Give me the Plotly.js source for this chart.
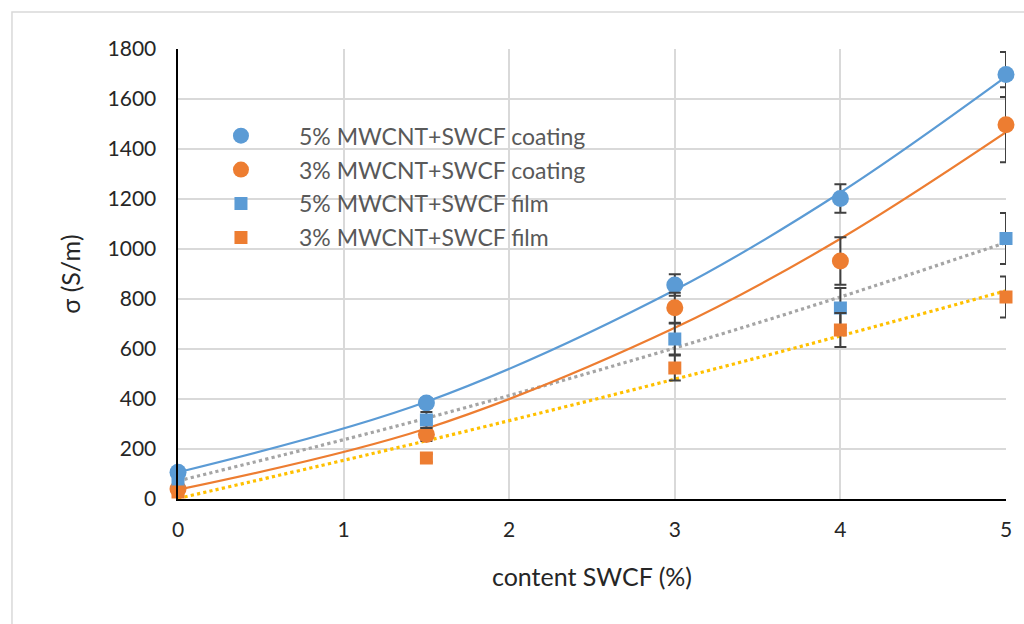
<!DOCTYPE html>
<html>
<head>
<meta charset="utf-8">
<script src="https://cdn.plot.ly/plotly-3.0.1.min.js"></script>
<style>html,body{margin:0;padding:0;background:#fff;}#chart{width:1024px;height:624px;}</style>
</head>
<body>
<div id="chart"></div>
<script>
// content SWCF (%)
const xContent = [0, 1.5, 3, 4, 5];
// conductivity sigma (S/m)
const coating5 = [107, 384, 856, 1202, 1698];
const coating3 = [40, 258, 765, 952, 1497];
const film5 = [72, 316, 640, 764, 1042];
const film3 = [28, 164, 524, 676, 808];
// error bars (S/m)
const errCoating5 = [6, 19, 43, 57, 90];
const errCoating3 = [4, 26, 60, 95, 150];
const errFilm5 = [7, 32, 62, 80, 102];
const errFilm3 = [3, 16, 50, 68, 82];
const seriesNames = ['5% MWCNT+SWCF coating', '3% MWCNT+SWCF coating', '5% MWCNT+SWCF film', '3% MWCNT+SWCF film'];

// least-squares polynomial trendline (order 2), evaluated at the data x values
function polyfit2(xs, ys) {
  let S = [0,0,0,0,0], T = [0,0,0];
  for (let i = 0; i < xs.length; i++) {
    let p = 1;
    for (let k = 0; k < 5; k++) { S[k] += p; if (k < 3) T[k] += p * ys[i]; p *= xs[i]; }
  }
  const A = [[S[0],S[1],S[2],T[0]],[S[1],S[2],S[3],T[1]],[S[2],S[3],S[4],T[2]]];
  for (let c = 0; c < 3; c++) {
    for (let r = c + 1; r < 3; r++) {
      const f = A[r][c] / A[c][c];
      for (let k = c; k < 4; k++) A[r][k] -= f * A[c][k];
    }
  }
  const co = [0,0,0];
  for (let r = 2; r >= 0; r--) {
    let s = A[r][3];
    for (let k = r + 1; k < 3; k++) s -= A[r][k] * co[k];
    co[r] = s / A[r][r];
  }
  return xs.map(x => co[0] + co[1]*x + co[2]*x*x);
}

const blue = '#5B9BD5', orange = '#ED7D31', grey = '#A5A5A5', yellow = '#FFC000';
const errStyle = (arr) => ({type: 'data', array: arr, visible: true, color: '#404040', thickness: 2, width: 6});

const trend = (ys, color, dash) => ({
  x: xContent, y: polyfit2(xContent, ys), mode: 'lines', type: 'scatter', showlegend: false,
  hoverinfo: 'skip', cliponaxis: false,
  line: {color: color, width: dash === 'solid' ? 2.2 : 3.2, dash: dash, shape: 'spline', smoothing: 1}
});

const pts = (ys, err, name, color, symbol, size, grp) => ({
  x: xContent, y: ys, mode: 'markers', type: 'scatter', name: name, legendgroup: grp,
  cliponaxis: false,
  marker: {color: color, symbol: symbol, size: size},
  error_y: errStyle(err)
});

const data = [
  trend(film5, grey, 'dot'),
  trend(film3, yellow, 'dot'),
  trend(coating5, blue, 'solid'),
  trend(coating3, orange, 'solid'),
  pts(coating5, errCoating5, seriesNames[0], blue, 'circle', 17, 'a'),
  pts(coating3, errCoating3, seriesNames[1], orange, 'circle', 17, 'b'),
  pts(film5, errFilm5, seriesNames[2], blue, 'square', 13, 'c'),
  pts(film3, errFilm3, seriesNames[3], orange, 'square', 13, 'd')
];

const fontFam = 'Lato, "Open Sans", sans-serif';
const layout = {
  width: 1024, height: 624,
  margin: {l: 178, r: 18, t: 49, b: 125},
  paper_bgcolor: '#fff', plot_bgcolor: '#fff',
  font: {family: fontFam, color: '#262626'},
  showlegend: true,
  legend: {
    x: 0.006, y: 0.855, xanchor: 'left', yanchor: 'top',
    bgcolor: 'rgba(0,0,0,0)', borderwidth: 0,
    font: {family: fontFam, size: 23, color: '#595959'},
    traceorder: 'grouped', tracegroupgap: 1, itemwidth: 106
  },
  xaxis: {
    range: [0, 5], dtick: 1, tick0: 0,
    showgrid: true, gridcolor: '#d9d9d9', gridwidth: 2,
    showline: true, linecolor: '#000', linewidth: 2,
    zeroline: false, ticks: '', ticklen: 0, ticklabelstandoff: 11,
    tickfont: {family: fontFam, size: 21, color: '#262626'},
    title: {text: 'content SWCF (%)', font: {family: fontFam, size: 25, color: '#262626'}, standoff: 28}
  },
  yaxis: {
    range: [0, 1800], dtick: 200, tick0: 0,
    showgrid: true, gridcolor: '#d9d9d9', gridwidth: 2,
    showline: true, linecolor: '#000', linewidth: 2.5,
    zeroline: false, ticks: '', ticklabelstandoff: 15,
    tickfont: {family: fontFam, size: 21, color: '#262626'},
    title: {text: 'σ (S/m)', font: {family: fontFam, size: 25, color: '#262626'}, standoff: 20}
  },
  shapes: [{
    type: 'rect', xref: 'paper', yref: 'paper',
    x0: -0.2005, x1: 1.2, y0: -0.5, y1: 1.0822,
    line: {color: '#d9d9d9', width: 1.5}, fillcolor: 'rgba(0,0,0,0)', layer: 'below'
  }]
};

Plotly.newPlot('chart', data, layout, {displayModeBar: false, staticPlot: true});
</script>
</body>
</html>
